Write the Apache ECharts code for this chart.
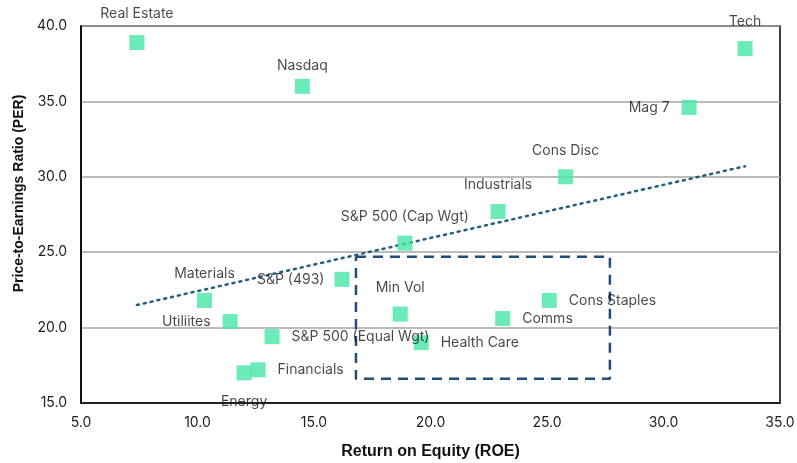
<!DOCTYPE html>
<html>
<head>
<meta charset="utf-8">
<script src="https://cdn.jsdelivr.net/npm/echarts@6/dist/echarts.min.js"></script>
<style>
  html, body { margin: 0; padding: 0; background: #fff; }
  #chart { width: 797px; height: 463px; }
</style>
</head>
<body>
<div id="chart"></div>
<script>
// data
var names = ['Real Estate', 'Nasdaq', 'Tech', 'Mag 7', 'Cons Disc', 'Industrials',
  'S&P 500 (Cap Wgt)', 'S&P (493)', 'Materials', 'Utiliites', 'S&P 500 (Equal Wgt)',
  'Min Vol', 'Cons Staples', 'Comms', 'Health Care', 'Financials', 'Energy']
var roe = [7.4, 14.5, 33.5, 31.1, 25.8, 22.9, 18.9, 16.2, 10.3, 11.4, 13.2, 18.7, 25.1, 23.1, 19.6, 12.6, 12.0]
var per = [38.9, 36.0, 38.5, 34.6, 30.0, 27.7, 25.6, 23.2, 21.8, 20.4, 19.4, 20.9, 21.8, 20.6, 19.0, 17.2, 17.0]

// trend line end points and highlighted box
var trendX = [7.4, 33.5]
var trendY = [21.5, 30.7]
var boxX = [16.8, 27.7]
var boxY = [16.6, 24.7]

var xTicks = { min: 5, max: 35, step: 5 }
var yTicks = { min: 15, max: 40, step: 5 }

// where each label sits relative to its marker
var labelPlace = {
  'Real Estate': { position: 'top', distance: 14 },
  'Nasdaq': { position: 'top', distance: 6 },
  'Tech': { position: 'top', distance: 12 },
  'Mag 7': { position: 'left', distance: 12 },
  'Cons Disc': { position: 'top', distance: 12 },
  'Industrials': { position: 'top', distance: 12 },
  'S&P 500 (Cap Wgt)': { position: 'top', distance: 12 },
  'S&P (493)': { position: 'left', distance: 10 },
  'Materials': { position: 'top', distance: 12 },
  'Utiliites': { position: 'left', distance: 12 },
  'S&P 500 (Equal Wgt)': { position: 'right', distance: 12 },
  'Min Vol': { position: 'top', distance: 12 },
  'Cons Staples': { position: 'right', distance: 12 },
  'Comms': { position: 'right', distance: 12 },
  'Health Care': { position: 'right', distance: 12 },
  'Financials': { position: 'right', distance: 12 },
  'Energy': { position: 'bottom', distance: 14 }
}

var chart = echarts.init(document.getElementById('chart'))

function buildPoints() {
  var data = []
  names.forEach(function (n, i) {
    var p = labelPlace[n]
    data.push({
      name: n,
      value: [roe[i], per[i]],
      label: { show: true, position: p.position, distance: p.distance }
    })
  })
  return data
}

var textFont = 'Inter, "Noto Sans", sans-serif'
var titleFont = '"Liberation Sans", Arial, sans-serif'

chart.setOption({
  animation: false,
  grid: {
    left: 81,
    right: 17,
    top: 26,
    bottom: 60,
    outerBoundsMode: 'none',
    show: true,
    borderColor: '#000',
    borderWidth: 1.5
  },
  xAxis: {
    type: 'value',
    min: xTicks.min,
    max: xTicks.max,
    interval: xTicks.step,
    name: 'Return on Equity (ROE)',
    nameLocation: 'middle',
    nameGap: 41,
    nameTextStyle: { fontSize: 16, fontWeight: 'bold', color: '#111', fontFamily: titleFont },
    axisLine: { show: true, lineStyle: { color: '#000', width: 1.5 } },
    axisTick: { show: false },
    splitLine: { show: false },
    axisLabel: {
      color: '#222', fontSize: 14, fontFamily: textFont, margin: 13,
      formatter: function (v) { return v.toFixed(1) }
    }
  },
  yAxis: {
    type: 'value',
    min: yTicks.min,
    max: yTicks.max,
    interval: yTicks.step,
    name: 'Price-to-Earnings Ratio (PER)',
    nameLocation: 'middle',
    nameGap: 55,
    nameTextStyle: {
      fontSize: 14, fontWeight: 'bold', color: '#111', fontFamily: titleFont,
      padding: [0, 0, 0, 42]
    },
    axisLine: { show: true, lineStyle: { color: '#000', width: 1.5 } },
    axisTick: { show: false },
    splitLine: { show: true, lineStyle: { color: '#a6a6a6', width: 1.5 } },
    axisLabel: {
      color: '#222', fontSize: 14, fontFamily: textFont, margin: 14,
      formatter: function (v) { return v.toFixed(1) }
    }
  },
  series: [
    {
      name: 'Trend',
      type: 'line',
      data: [[trendX[0], trendY[0]], [trendX[1], trendY[1]]],
      showSymbol: false,
      symbol: 'none',
      lineStyle: { color: '#1f5f7f', width: 2.5, type: [2, 5], cap: 'round' },
      z: 1,
      silent: true
    },
    {
      name: 'Box',
      type: 'line',
      data: [[boxX[0], boxY[1]], [boxX[1], boxY[1]], [boxX[1], boxY[0]], [boxX[0], boxY[0]], [boxX[0], boxY[1]]],
      showSymbol: false,
      symbol: 'none',
      lineStyle: { color: '#1f4e79', width: 2.5, type: [10, 7] },
      z: 1,
      silent: true
    },
    {
      name: 'Sectors',
      type: 'scatter',
      symbol: 'rect',
      symbolSize: 15,
      itemStyle: { color: '#45e6a6' },
      label: {
        formatter: '{b}',
        color: '#1a1a1a',
        fontSize: 14,
        fontFamily: textFont
      },
      data: buildPoints(),
      z: 3
    }
  ]
})
</script>
</body>
</html>
